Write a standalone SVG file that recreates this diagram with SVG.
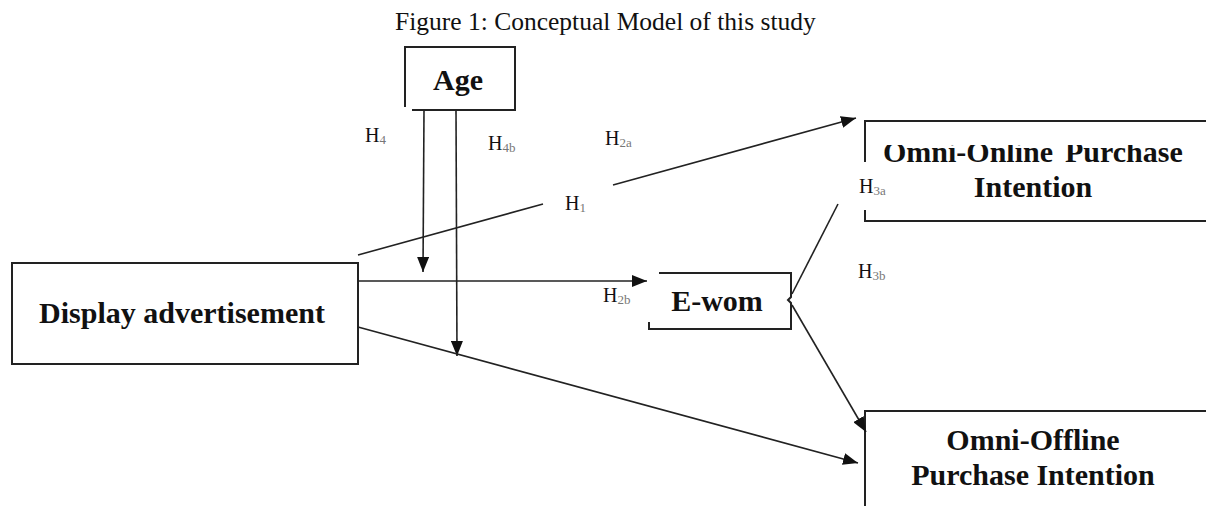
<svg xmlns="http://www.w3.org/2000/svg" width="1206" height="506" viewBox="0 0 1206 506">
<style>
.t{font-family:"Liberation Serif","Times New Roman",serif;fill:#111}
.b{font-weight:bold;font-size:30px}
.h{font-size:20px}
.s{font-size:13px;fill:#777}
.box{fill:none;stroke:#222;stroke-width:2}
.ln{fill:none;stroke:#222;stroke-width:1.6}
</style>
<defs>
<marker id="ah" markerUnits="userSpaceOnUse" markerWidth="16" markerHeight="12" refX="15" refY="6" orient="auto">
<path d="M0,0 L15,6 L0,12 Z" fill="#111"/>
</marker>
<clipPath id="clipOn"><rect x="860" y="145" width="346" height="70"/></clipPath>
</defs>
<rect width="1206" height="506" fill="#fff"/>
<text class="t" x="395" y="30" font-size="25.5">Figure 1: Conceptual Model of this study</text>
<g id="age">
<path class="box" d="M405,107 V47 H515 V110 H412"/>
<text class="t b" x="458" y="90" text-anchor="middle">Age</text>
</g>
<g id="display">
<rect class="box" x="12" y="263" width="346" height="101"/>
<text class="t b" x="182" y="323" text-anchor="middle">Display advertisement</text>
</g>
<g id="ewom">
<path class="box" d="M659,273 H791 V297 L788,300 L791,303 V329 H649 V322"/>
<text class="t b" x="717" y="311" text-anchor="middle">E-wom</text>
</g>
<g id="online">
<path class="box" d="M865,162 V121 H1206"/>
<path class="box" d="M865,210 V221 H1206"/>
<text class="t b" y="162" clip-path="url(#clipOn)"><tspan x="883">Omni-Online</tspan><tspan x="1065">Purchase</tspan></text>
<text class="t b" x="1033" y="197" text-anchor="middle">Intention</text>
</g>
<g id="offline">
<path class="box" d="M865,506 V411 H1206"/>
<text class="t b" x="1033" y="450" text-anchor="middle">Omni-Offline</text>
<text class="t b" x="1033" y="485" text-anchor="middle">Purchase Intention</text>
</g>
<g id="connectors">
<line class="ln" x1="424" y1="110" x2="423" y2="272" marker-end="url(#ah)"/>
<line class="ln" x1="456" y1="110" x2="457" y2="356" marker-end="url(#ah)"/>
<line class="ln" x1="358" y1="281" x2="647" y2="281" marker-end="url(#ah)"/>
<line class="ln" x1="358" y1="327" x2="858" y2="463" marker-end="url(#ah)"/>
<line class="ln" x1="358" y1="255" x2="543" y2="204"/>
<line class="ln" x1="613" y1="185" x2="856" y2="118" marker-end="url(#ah)"/>
<line class="ln" x1="792" y1="294" x2="838" y2="204"/>
<line class="ln" x1="792" y1="305" x2="866" y2="432" marker-end="url(#ah)"/>
</g>
<g id="labels">
<text class="t h" x="365" y="142">H<tspan class="s" dy="2">4</tspan></text>
<text class="t h" x="488" y="150">H<tspan class="s" dy="2">4b</tspan></text>
<text class="t h" x="605" y="145">H<tspan class="s" dy="2">2a</tspan></text>
<text class="t h" x="565" y="210">H<tspan class="s" dy="2">1</tspan></text>
<text class="t h" x="859" y="193">H<tspan class="s" dy="2">3a</tspan></text>
<text class="t h" x="858" y="278">H<tspan class="s" dy="2">3b</tspan></text>
<text class="t h" x="603" y="302">H<tspan class="s" dy="2">2b</tspan></text>
</g>
</svg>
